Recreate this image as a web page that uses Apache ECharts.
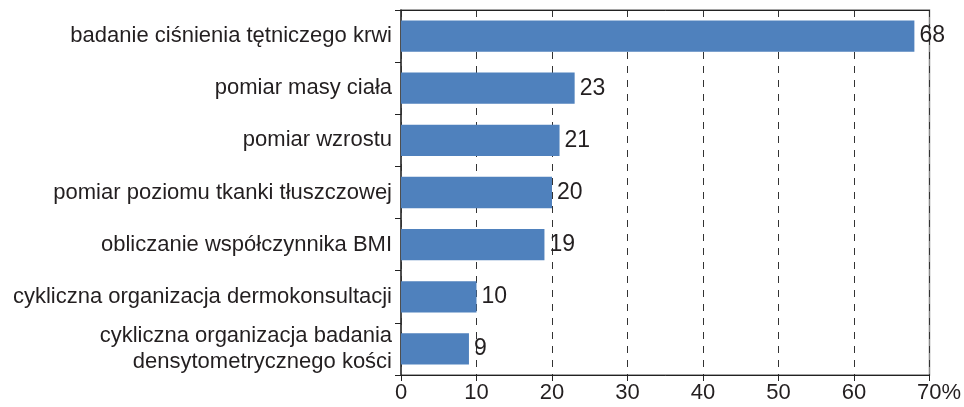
<!DOCTYPE html>
<html>
<head>
<meta charset="utf-8">
<script src="https://cdn.jsdelivr.net/npm/echarts@6/dist/echarts.min.js"></script>
<style>html,body{margin:0;padding:0;background:#fff}#c{width:964px;height:407px}</style>
</head>
<body>
<div id="c"></div>
<script>
var categories = [
  'badanie ciśnienia tętniczego krwi',
  'pomiar masy ciała',
  'pomiar wzrostu',
  'pomiar poziomu tkanki tłuszczowej',
  'obliczanie współczynnika BMI',
  'cykliczna organizacja dermokonsultacji',
  'cykliczna organizacja badania\ndensytometrycznego kości'
];
var values = [68, 23, 21, 20, 19, 10, 9];
var xTicks = [0, 10, 20, 30, 40, 50, 60, 70];

var FONT = "'Liberation Sans', Arial, sans-serif";
var TXT = '#231f20';
var chart = echarts.init(document.getElementById('c'), null, {renderer: 'canvas'});
chart.setOption({
  animation: false,
  grid: {left: 401, right: 34, top: 10, bottom: 32, show: true, borderColor: '#888', borderWidth: 1.5, containLabel: false},
  xAxis: [{
    type: 'value', min: 0, max: 70, interval: 10,
    axisLine: {show: true, lineStyle: {color: '#222', width: 1}},
    axisTick: {show: true, length: 6, inside: false, lineStyle: {color: '#222'}},
    splitLine: {show: true, lineStyle: {color: '#333', type: [7, 7], width: 1}},
    axisLabel: {
      margin: 7, color: TXT, fontSize: 22, fontFamily: FONT,
      formatter: function (v) { return v === xTicks[xTicks.length - 1] ? '{p|' + v + '%}' : String(v); },
      rich: {p: {fontSize: 22, fontFamily: FONT, color: TXT, padding: [0, 0, 0, 19]}}
    }
  }, {
    type: 'value', position: 'top', min: 0, max: 70, interval: 10,
    axisLine: {show: true, lineStyle: {color: '#222', width: 1}},
    axisTick: {show: false}, axisLabel: {show: false}, splitLine: {show: false}
  }],
  yAxis: {
    type: 'category', data: categories, inverse: true,
    axisLine: {show: true, lineStyle: {color: '#333', width: 1.5}},
    axisTick: {show: true, length: 6, lineStyle: {color: '#222'}},
    axisLabel: {margin: 9, color: TXT, fontSize: 22, fontFamily: FONT, lineHeight: 26, align: 'right'}
  },
  series: [{
    type: 'bar', data: values, xAxisIndex: 0,
    barCategoryGap: '40%',
    itemStyle: {color: '#4f81bd'},
    label: {show: true, position: 'right', distance: 5, color: TXT, fontSize: 23, fontFamily: FONT}
  }]
});
</script>
</body>
</html>
